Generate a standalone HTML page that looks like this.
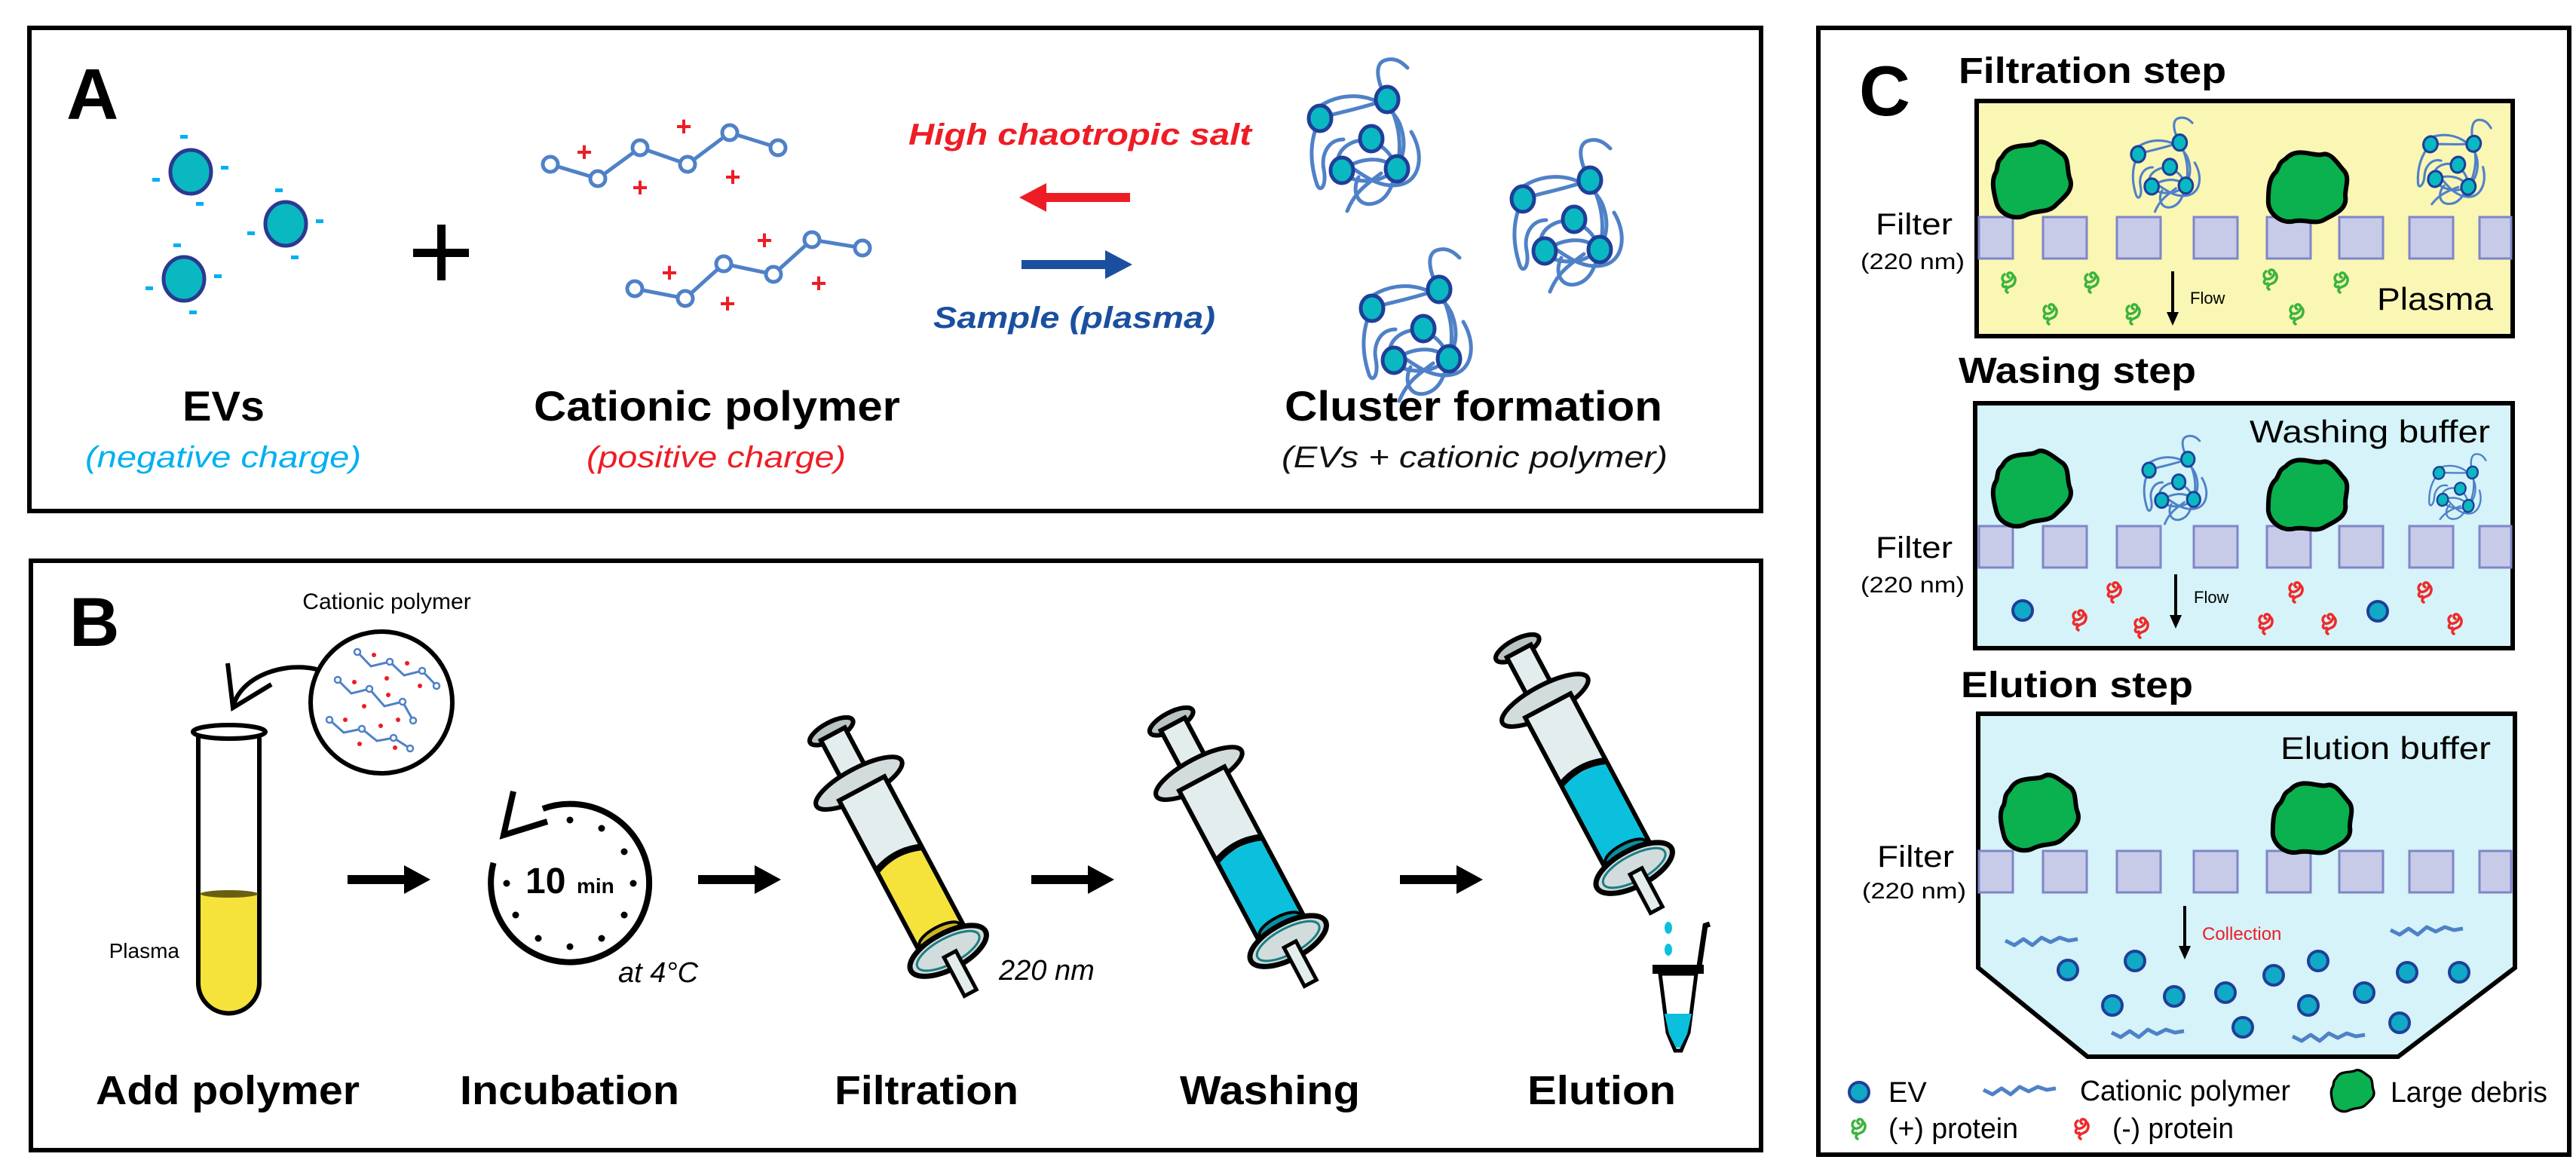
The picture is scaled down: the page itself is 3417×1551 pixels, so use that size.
<!DOCTYPE html>
<html><head><meta charset="utf-8"><style>
html,body{margin:0;padding:0;background:#fff}
svg{display:block}
text{font-family:"Liberation Sans",Arial,sans-serif}
</style></head><body>
<svg width="3417" height="1551" viewBox="0 0 3417 1551" xmlns="http://www.w3.org/2000/svg">
<defs>
<g id="clu">
 <g fill="none" stroke="#4f81c7" stroke-width="5" stroke-linecap="round">
  <path d="M-60,-45 C-20,-70 30,-55 45,-20 C60,20 40,55 0,55 C-40,55 -50,20 -20,5 C0,-5 30,5 41,39"/>
  <path d="M28,-53 C15,-75 10,-100 25,-105 C40,-110 50,-100 55,-95"/>
  <path d="M28,-53 C40,-30 50,0 41,39 C35,60 30,80 10,85 C-10,90 -20,70 -10,50"/>
  <path d="M-61,-28 C-75,0 -75,30 -65,60 C-60,72 -52,60 -56,40 C-60,20 -50,0 -30,0"/>
  <path d="M-25,95 C-15,70 0,60 20,45"/>
  <path d="M60,-10 C78,20 72,55 45,60 C20,65 0,50 -15,40"/>
  <path d="M-55,-30 C-40,-35 -10,-40 28,-53"/>
  <path d="M-32,41 C-10,25 20,20 41,39"/>
 </g>
 <g fill="#0ab8c2" stroke="#1f3f99" stroke-width="5">
  <ellipse cx="-61" cy="-28" rx="15" ry="17"/><ellipse cx="28" cy="-53" rx="15" ry="17"/><ellipse cx="7" cy="-1" rx="15" ry="17"/><ellipse cx="-32" cy="41" rx="15" ry="17"/><ellipse cx="41" cy="39" rx="15" ry="17"/>
 </g>
</g>
<path id="deb" d="M-40,-30 C-30,-50 -5,-42 5,-48 C15,-55 30,-40 38,-35 C50,-28 45,-10 50,0 C55,15 40,25 30,35 C20,45 5,40 -10,48 C-25,55 -45,45 -48,30 C-52,15 -55,0 -48,-10 C-45,-20 -48,-22 -40,-30Z" fill="#0bb04f" stroke="#000" stroke-width="6"/>
<path id="pro" d="M-6,-10 C-12,-6 -8,2 -2,0 C4,-2 8,-10 2,-12 C-2,-13 -4,-8 0,-6 M6,-8 C10,-4 8,4 2,6 C-4,8 -6,12 -2,14 M-8,2 C-10,6 -6,8 -4,6" fill="none" stroke-width="3.5" stroke-linecap="round"/>
<circle id="ev" r="13" fill="#10a9c6" stroke="#1f3f99" stroke-width="4"/>
<path id="wig" d="M0,0 l12,6 l12,-8 l12,8 l12,-10 l12,6 l12,-6 l12,4 l12,-2" fill="none" stroke="#4f81c7" stroke-width="5" stroke-linejoin="round"/>
<g id="sq" fill="#c8cbe8" stroke="#7f86c8" stroke-width="3">
 <rect x="2625" y="0" width="45" height="55"/><rect x="2710" y="0" width="58" height="55"/><rect x="2808" y="0" width="58" height="55"/><rect x="2910" y="0" width="58" height="55"/><rect x="3007" y="0" width="58" height="55"/><rect x="3103" y="0" width="58" height="55"/><rect x="3196" y="0" width="58" height="55"/><rect x="3289" y="0" width="42" height="55"/>
</g>
</defs>

<!-- Panel borders -->
<rect x="39" y="37" width="2297" height="641" fill="none" stroke="#000" stroke-width="6"/>
<rect x="41" y="744" width="2295" height="782" fill="none" stroke="#000" stroke-width="6"/>
<rect x="2412" y="37" width="996" height="1495" fill="none" stroke="#000" stroke-width="6"/>

<!-- ===== Panel A ===== -->
<text x="88" y="158" font-size="96" font-weight="bold">A</text>
<g fill="#0ab8c2" stroke="#2b3990" stroke-width="5">
 <ellipse cx="253" cy="228" rx="27" ry="29"/><ellipse cx="379" cy="297" rx="27" ry="29"/><ellipse cx="244" cy="370" rx="27" ry="29"/>
</g>
<g fill="#00b0f0">
 <rect x="239" y="179" width="10" height="5"/><rect x="293" y="220" width="10" height="5"/><rect x="202" y="236" width="10" height="5"/><rect x="260" y="268" width="10" height="5"/>
 <rect x="365" y="250" width="10" height="5"/><rect x="419" y="291" width="10" height="5"/><rect x="328" y="307" width="10" height="5"/><rect x="386" y="339" width="10" height="5"/>
 <rect x="230" y="323" width="10" height="5"/><rect x="284" y="364" width="10" height="5"/><rect x="193" y="380" width="10" height="5"/><rect x="251" y="412" width="10" height="5"/>
</g>
<rect x="548" y="330" width="74" height="11" fill="#000"/><rect x="580" y="298" width="11" height="74" fill="#000"/>
<g fill="#fff" stroke="#4f81c7" stroke-width="5">
 <polyline points="730,218 793,237 849,196 912,218 968,176 1032,196" fill="none"/>
 <circle cx="730" cy="218" r="10"/><circle cx="793" cy="237" r="10"/><circle cx="849" cy="196" r="10"/><circle cx="912" cy="218" r="10"/><circle cx="968" cy="176" r="10"/><circle cx="1032" cy="196" r="10"/>
 <polyline points="842,383 909,396 960,350 1026,364 1077,318 1144,329" fill="none"/>
 <circle cx="842" cy="383" r="10"/><circle cx="909" cy="396" r="10"/><circle cx="960" cy="350" r="10"/><circle cx="1026" cy="364" r="10"/><circle cx="1077" cy="318" r="10"/><circle cx="1144" cy="329" r="10"/>
</g>
<g fill="#ee1c24" font-size="36" font-weight="bold" text-anchor="middle">
 <text x="775" y="214">+</text><text x="849" y="261">+</text><text x="907" y="180">+</text><text x="972" y="247">+</text>
 <text x="888" y="374">+</text><text x="965" y="415">+</text><text x="1014" y="331">+</text><text x="1086" y="388">+</text>
</g>
<text x="1205" y="192" font-size="40" font-weight="bold" font-style="italic" fill="#ee1c24" textLength="455" lengthAdjust="spacingAndGlyphs">High chaotropic salt</text>
<rect x="1383" y="256" width="116" height="12" fill="#ee1c24"/><polygon points="1352,262 1388,243 1388,281" fill="#ee1c24"/>
<rect x="1355" y="345" width="116" height="12" fill="#1a4f9f"/><polygon points="1502,351 1466,332 1466,370" fill="#1a4f9f"/>
<text x="1238" y="435" font-size="40" font-weight="bold" font-style="italic" fill="#1a4f9f" textLength="374" lengthAdjust="spacingAndGlyphs">Sample (plasma)</text>
<use href="#clu" transform="translate(1812,185)"/>
<use href="#clu" transform="translate(2081,292)"/>
<use href="#clu" transform="translate(1881,437)"/>
<g font-weight="bold" font-size="56">
 <text x="242" y="558" textLength="109" lengthAdjust="spacingAndGlyphs">EVs</text>
 <text x="708" y="558" textLength="486" lengthAdjust="spacingAndGlyphs">Cationic polymer</text>
 <text x="1704" y="558" textLength="501" lengthAdjust="spacingAndGlyphs">Cluster formation</text>
</g>
<g font-size="40" font-style="italic">
 <text x="113" y="620" fill="#00b0f0" textLength="366" lengthAdjust="spacingAndGlyphs">(negative charge)</text>
 <text x="778" y="620" fill="#ee1c24" textLength="344" lengthAdjust="spacingAndGlyphs">(positive charge)</text>
 <text x="1700" y="620" fill="#111" textLength="512" lengthAdjust="spacingAndGlyphs">(EVs + cationic polymer)</text>
</g>

<!-- ===== Panel B ===== -->
<text x="92" y="857" font-size="92" font-weight="bold">B</text>
<text x="513" y="808" font-size="30" text-anchor="middle">Cationic polymer</text>
<circle cx="506" cy="932" r="94" fill="#fff" stroke="#000" stroke-width="6"/>
<g fill="none" stroke="#4f81c7" stroke-width="3">
 <polyline points="474,865 492,884 517,878 536,896 560,890 579,910"/>
 <polyline points="448,902 466,920 490,914 510,937 534,931 548,956"/>
 <polyline points="437,955 456,972 480,967 500,983 522,979 544,993"/>
</g>
<g fill="#fff" stroke="#4f81c7" stroke-width="2.5">
 <circle cx="474" cy="865" r="4"/><circle cx="517" cy="878" r="4"/><circle cx="560" cy="890" r="4"/><circle cx="579" cy="910" r="4"/>
 <circle cx="448" cy="902" r="4"/><circle cx="490" cy="914" r="4"/><circle cx="534" cy="931" r="4"/><circle cx="548" cy="956" r="4"/>
 <circle cx="437" cy="955" r="4"/><circle cx="480" cy="967" r="4"/><circle cx="522" cy="979" r="4"/><circle cx="544" cy="993" r="4"/>
</g>
<g fill="#ee1c24">
 <circle cx="496" cy="869" r="3"/><circle cx="540" cy="880" r="3"/><circle cx="513" cy="900" r="3"/><circle cx="557" cy="910" r="3"/><circle cx="470" cy="905" r="3"/><circle cx="515" cy="922" r="3"/><circle cx="483" cy="937" r="3"/><circle cx="528" cy="955" r="3"/><circle cx="458" cy="955" r="3"/><circle cx="505" cy="963" r="3"/><circle cx="477" cy="987" r="3"/><circle cx="524" cy="992" r="3"/>
</g>
<path d="M420,888 C380,878 320,895 309,938" fill="none" stroke="#000" stroke-width="6"/>
<polyline points="302,880 309,939 360,908" fill="none" stroke="#000" stroke-width="6"/>
<path d="M263,1184 L263,1304 A40.5,40.5 0 0 0 344,1304 L344,1184 Z" fill="#f5e33b"/>
<path d="M263,971 L263,1304 A40.5,40.5 0 0 0 344,1304 L344,971" fill="none" stroke="#000" stroke-width="6"/>
<ellipse cx="304" cy="1186" rx="38" ry="5" fill="#6a5f10"/>
<ellipse cx="304" cy="971" rx="48" ry="9" fill="#fff" stroke="#000" stroke-width="6"/>
<text x="238" y="1271" font-size="28" text-anchor="end">Plasma</text>

<g fill="#000">
 <rect x="461" y="1161" width="80" height="12"/><polygon points="571,1167 536,1148 536,1186"/>
 <rect x="926" y="1161" width="80" height="12"/><polygon points="1036,1167 1001,1148 1001,1186"/>
 <rect x="1368" y="1161" width="80" height="12"/><polygon points="1478,1167 1443,1148 1443,1186"/>
 <rect x="1857" y="1161" width="80" height="12"/><polygon points="1967,1167 1932,1148 1932,1186"/>
</g>
<!-- clock -->
<path d="M654.6,1144.8 A105,105 0 1 0 720,1073" fill="none" stroke="#000" stroke-width="8"/>
<polyline points="681,1050 668,1108 726,1090" fill="none" stroke="#000" stroke-width="8"/>
<g fill="#000">
 <circle cx="756" cy="1088" r="4.5"/><circle cx="798" cy="1099" r="4.5"/><circle cx="828" cy="1130" r="4.5"/><circle cx="840" cy="1172" r="4.5"/><circle cx="828" cy="1214" r="4.5"/><circle cx="798" cy="1245" r="4.5"/><circle cx="756" cy="1256" r="4.5"/><circle cx="714" cy="1245" r="4.5"/><circle cx="684" cy="1214" r="4.5"/><circle cx="672" cy="1172" r="4.5"/>
</g>
<text x="697" y="1185" font-size="48" font-weight="bold">10</text>
<text x="765" y="1185" font-size="28" font-weight="bold">min</text>
<text x="820" y="1303" font-size="38" font-style="italic">at 4°C</text>

<!-- syringes -->
<g transform="translate(1192,1138) rotate(-28)" stroke="#000">
 <ellipse cx="0" cy="-190" rx="32" ry="12" fill="#b9c3c3" stroke-width="6"/>
 <rect x="-18" y="-186" width="36" height="72" fill="#e4eded" stroke-width="6"/>
 <ellipse cx="0" cy="-112" rx="64" ry="20" fill="#d3dcdc" stroke-width="6"/>
 <rect x="-34" y="-104" width="68" height="222" fill="#e4eded" stroke-width="6"/>
 <rect x="-31" y="0" width="62" height="116" fill="#f5e33b" stroke="none"/>
 <path d="M-34,2 Q0,-12 34,2" fill="none" stroke-width="9"/>
 <ellipse cx="0" cy="116" rx="30" ry="11" fill="#c9b520" stroke-width="4"/>
 <ellipse cx="0" cy="140" rx="56" ry="24" fill="#d3dcdc" stroke-width="7"/>
 <ellipse cx="0" cy="140" rx="46" ry="17" fill="none" stroke="#1a7f84" stroke-width="3"/>
 <rect x="-9" y="145" width="18" height="58" fill="#e4eded" stroke-width="5"/>
</g>
<g transform="translate(1643,1125) rotate(-28)" stroke="#000">
 <ellipse cx="0" cy="-190" rx="32" ry="12" fill="#b9c3c3" stroke-width="6"/>
 <rect x="-18" y="-186" width="36" height="72" fill="#e4eded" stroke-width="6"/>
 <ellipse cx="0" cy="-112" rx="64" ry="20" fill="#d3dcdc" stroke-width="6"/>
 <rect x="-34" y="-104" width="68" height="222" fill="#e4eded" stroke-width="6"/>
 <rect x="-31" y="0" width="62" height="116" fill="#0bc0dc" stroke="none"/>
 <path d="M-34,2 Q0,-12 34,2" fill="none" stroke-width="9"/>
 <ellipse cx="0" cy="116" rx="30" ry="11" fill="#0a8fa0" stroke-width="4"/>
 <ellipse cx="0" cy="140" rx="56" ry="24" fill="#d3dcdc" stroke-width="7"/>
 <ellipse cx="0" cy="140" rx="46" ry="17" fill="none" stroke="#1a7f84" stroke-width="3"/>
 <rect x="-9" y="145" width="18" height="58" fill="#e4eded" stroke-width="5"/>
</g>
<g transform="translate(2102,1028) rotate(-28)" stroke="#000">
 <ellipse cx="0" cy="-190" rx="32" ry="12" fill="#b9c3c3" stroke-width="6"/>
 <rect x="-18" y="-186" width="36" height="72" fill="#e4eded" stroke-width="6"/>
 <ellipse cx="0" cy="-112" rx="64" ry="20" fill="#d3dcdc" stroke-width="6"/>
 <rect x="-34" y="-104" width="68" height="222" fill="#e4eded" stroke-width="6"/>
 <rect x="-31" y="-5" width="62" height="121" fill="#0bc0dc" stroke="none"/>
 <path d="M-34,-3 Q0,-17 34,-3" fill="none" stroke-width="9"/>
 <ellipse cx="0" cy="116" rx="30" ry="11" fill="#0a8fa0" stroke-width="4"/>
 <ellipse cx="0" cy="140" rx="56" ry="24" fill="#d3dcdc" stroke-width="7"/>
 <ellipse cx="0" cy="140" rx="46" ry="17" fill="none" stroke="#1a7f84" stroke-width="3"/>
 <rect x="-9" y="145" width="18" height="58" fill="#e4eded" stroke-width="5"/>
</g>
<text x="1325" y="1300" font-size="38" font-style="italic">220 nm</text>
<!-- microtube -->
<ellipse cx="2213" cy="1231" rx="5" ry="8" fill="#0bc0dc"/><ellipse cx="2213" cy="1260" rx="5" ry="8" fill="#0bc0dc"/>
<path d="M2202,1292 L2250,1292 L2240,1370 L2230,1394 L2222,1394 L2212,1370 Z" fill="#fff" stroke="#000" stroke-width="5"/>
<path d="M2208,1345 L2244,1345 L2238,1372 L2229,1390 L2223,1390 L2214,1372 Z" fill="#0bc0dc"/>
<rect x="2192" y="1280" width="68" height="12" fill="#000"/>
<path d="M2254,1282 L2262,1228 L2268,1226" fill="none" stroke="#000" stroke-width="7"/>
<g font-weight="bold" font-size="54">
 <text x="127" y="1465" textLength="350" lengthAdjust="spacingAndGlyphs">Add polymer</text>
 <text x="610" y="1465" textLength="291" lengthAdjust="spacingAndGlyphs">Incubation</text>
 <text x="1107" y="1465" textLength="244" lengthAdjust="spacingAndGlyphs">Filtration</text>
 <text x="1565" y="1465" textLength="239" lengthAdjust="spacingAndGlyphs">Washing</text>
 <text x="2026" y="1465" textLength="197" lengthAdjust="spacingAndGlyphs">Elution</text>
</g>

<!-- ===== Panel C ===== -->
<text x="2466" y="153" font-size="94" font-weight="bold">C</text>
<g font-weight="bold" font-size="48">
 <text x="2598" y="110" textLength="355" lengthAdjust="spacingAndGlyphs">Filtration step</text>
 <text x="2598" y="508" textLength="315" lengthAdjust="spacingAndGlyphs">Wasing step</text>
 <text x="2601" y="925" textLength="308" lengthAdjust="spacingAndGlyphs">Elution step</text>
</g>
<!-- filtration box -->
<rect x="2622" y="134" width="711" height="312" fill="#faf6b4" stroke="#000" stroke-width="6"/>
<use href="#sq" transform="translate(0,288)"/>
<use href="#deb" transform="translate(2696,238)"/>
<use href="#deb" transform="translate(3063,250) rotate(15)"/>
<use href="#clu" transform="translate(2874,222) scale(0.62)"/>
<use href="#clu" transform="translate(3256,218) scale(0.62) rotate(15)"/>
<g stroke="#3cb43c">
 <use href="#pro" x="2665" y="374"/><use href="#pro" x="2775" y="374"/><use href="#pro" x="2720" y="416"/><use href="#pro" x="2830" y="416"/><use href="#pro" x="3012" y="370"/><use href="#pro" x="3106" y="374"/><use href="#pro" x="3047" y="416"/>
</g>
<line x1="2882" y1="360" x2="2882" y2="418" stroke="#000" stroke-width="4"/><polygon points="2882,432 2874,414 2890,414"/>
<text x="2905" y="403" font-size="22">Flow</text>
<text x="3153" y="411" font-size="42" textLength="154" lengthAdjust="spacingAndGlyphs">Plasma</text>
<text x="2488" y="311" font-size="40" textLength="102" lengthAdjust="spacingAndGlyphs">Filter</text>
<text x="2468" y="357" font-size="30" textLength="138" lengthAdjust="spacingAndGlyphs">(220 nm)</text>

<!-- washing box -->
<rect x="2620" y="535" width="713" height="325" fill="#d5f3f8" stroke="#000" stroke-width="6"/>
<text x="3303" y="587" font-size="42" text-anchor="end" textLength="319" lengthAdjust="spacingAndGlyphs">Washing buffer</text>
<use href="#sq" transform="translate(0,698)"/>
<use href="#deb" transform="translate(2696,648)"/>
<use href="#deb" transform="translate(3063,658) rotate(15)"/>
<use href="#clu" transform="translate(2886,640) scale(0.58)"/>
<use href="#clu" transform="translate(3260,648) scale(0.48) rotate(15)"/>
<g stroke="#ee2a2a">
 <use href="#pro" x="2805" y="785"/><use href="#pro" x="3046" y="785"/><use href="#pro" x="3217" y="785"/><use href="#pro" x="2759" y="822"/><use href="#pro" x="2841" y="832"/><use href="#pro" x="3006" y="827"/><use href="#pro" x="3090" y="827"/><use href="#pro" x="3257" y="827"/>
</g>
<use href="#ev" x="2683" y="810"/><use href="#ev" x="3154" y="811"/>
<line x1="2886" y1="762" x2="2886" y2="820" stroke="#000" stroke-width="4"/><polygon points="2886,834 2878,816 2894,816"/>
<text x="2910" y="800" font-size="22">Flow</text>
<text x="2488" y="740" font-size="40" textLength="102" lengthAdjust="spacingAndGlyphs">Filter</text>
<text x="2468" y="786" font-size="30" textLength="138" lengthAdjust="spacingAndGlyphs">(220 nm)</text>

<!-- elution box -->
<path d="M2624,947 L3336,947 L3336,1284 L3181,1402 L2769,1402 L2624,1284 Z" fill="#d5f3f8" stroke="#000" stroke-width="6"/>
<text x="3304" y="1007" font-size="42" text-anchor="end" textLength="279" lengthAdjust="spacingAndGlyphs">Elution buffer</text>
<use href="#sq" transform="translate(0,1129)"/>
<use href="#deb" transform="translate(2706,1078)"/>
<use href="#deb" transform="translate(3069,1087) rotate(15)"/>
<line x1="2898" y1="1202" x2="2898" y2="1258" stroke="#000" stroke-width="4"/><polygon points="2898,1273 2890,1255 2906,1255"/>
<text x="2921" y="1247" font-size="24" fill="#ee1c24">Collection</text>
<g>
 <use href="#ev" x="2743" y="1287"/><use href="#ev" x="2832" y="1275"/><use href="#ev" x="2802" y="1334"/><use href="#ev" x="2884" y="1322"/><use href="#ev" x="2952" y="1317"/><use href="#ev" x="2975" y="1363"/><use href="#ev" x="3016" y="1294"/><use href="#ev" x="3075" y="1275"/><use href="#ev" x="3062" y="1334"/><use href="#ev" x="3136" y="1317"/><use href="#ev" x="3193" y="1290"/><use href="#ev" x="3262" y="1290"/><use href="#ev" x="3183" y="1357"/>
</g>
<use href="#wig" x="2660" y="1248"/><use href="#wig" x="3171" y="1234"/><use href="#wig" x="2801" y="1370"/><use href="#wig" x="3041" y="1375"/>
<text x="2490" y="1150" font-size="40" textLength="102" lengthAdjust="spacingAndGlyphs">Filter</text>
<text x="2470" y="1192" font-size="30" textLength="138" lengthAdjust="spacingAndGlyphs">(220 nm)</text>

<!-- legend -->
<use href="#ev" x="2466" y="1449"/>
<text x="2505" y="1462" font-size="38">EV</text>
<use href="#wig" x="2631" y="1446"/>
<text x="2759" y="1460" font-size="38" textLength="279" lengthAdjust="spacingAndGlyphs">Cationic polymer</text>
<use href="#deb" transform="translate(3121,1447) scale(0.55)"/>
<text x="3171" y="1462" font-size="38" textLength="208" lengthAdjust="spacingAndGlyphs">Large debris</text>
<g stroke="#3cb43c"><use href="#pro" x="2466" y="1497"/></g>
<text x="2505" y="1510" font-size="38" textLength="172" lengthAdjust="spacingAndGlyphs">(+) protein</text>
<g stroke="#ee2a2a"><use href="#pro" x="2762" y="1497"/></g>
<text x="2802" y="1510" font-size="38" textLength="161" lengthAdjust="spacingAndGlyphs">(-) protein</text>
</svg>
</body></html>
